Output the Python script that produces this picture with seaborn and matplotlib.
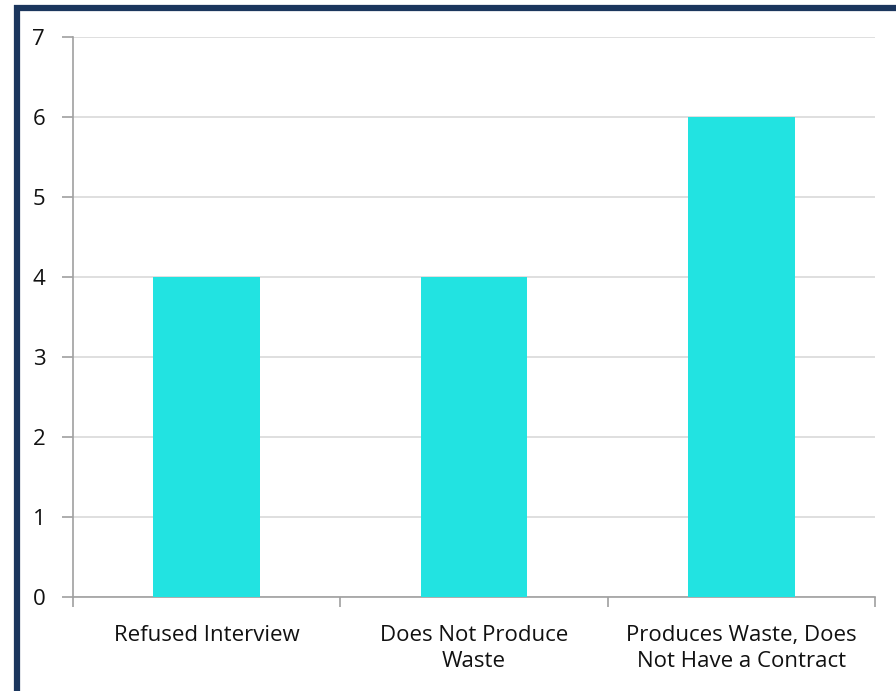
import matplotlib
matplotlib.use("Agg")
import matplotlib.pyplot as plt
import seaborn as sns
import pandas as pd
from matplotlib.lines import Line2D

# data
categories = ["Refused Interview", "Does Not Produce\nWaste", "Produces Waste, Does\nNot Have a Contract"]
counts = [4, 4, 6]

sns.set_style("white")
plt.rcParams['font.family'] = ['Open Sans', 'DejaVu Sans']

df = pd.DataFrame({"cat": categories, "n": counts})

W, H = 896, 691
fig = plt.figure(figsize=(W / 100, H / 100), dpi=100)
ax = fig.add_axes([73 / W, 1 - 597 / H, (875 - 73) / W, (597 - 37) / H])

sns.barplot(data=df, x="cat", y="n", color="#22E3E1", width=0.4, saturation=1,
            linewidth=0, ax=ax, zorder=3)

ax.set_ylim(0, 7)
ax.set_xlim(-0.5, 2.5)
ax.set_yticks(range(0, 8))
ax.set_xlabel("")
ax.set_ylabel("")
ax.yaxis.grid(True, color="#D9D9D9", linewidth=1.2, zorder=0)
ax.set_axisbelow(True)

for s in ["top", "right"]:
    ax.spines[s].set_visible(False)
for s in ["left", "bottom"]:
    ax.spines[s].set_color("#A0A0A0")
    ax.spines[s].set_linewidth(1.2)

fs = 16
ax.set_xticks([-0.5, 0.5, 1.5, 2.5], minor=False)
ax.set_xticklabels([])
ax.set_xticks([0, 1, 2], minor=True)
ax.set_xticklabels(categories, minor=True, fontsize=fs, linespacing=1.3)
ax.tick_params(axis="x", which="major", length=7, width=1.2, color="#A0A0A0", direction="out", bottom=True)
ax.tick_params(axis="x", which="minor", length=0, pad=20, labelsize=fs, labelcolor="#111111")
ax.tick_params(axis="y", length=8, width=1.2, color="#A0A0A0", direction="out", left=True,
               labelsize=fs, pad=12, labelcolor="#111111")

# dark frame on left and top edges
navy = "#1B365D"
fig.add_artist(Line2D([17 / W, 17 / W], [0, 1 - 5 / H], color=navy, linewidth=4.5,
                      solid_capstyle="butt", transform=fig.transFigure))
fig.add_artist(Line2D([14 / W, 1], [1 - 7.5 / H, 1 - 7.5 / H], color=navy, linewidth=4.5,
                      solid_capstyle="butt", transform=fig.transFigure))

fig.savefig("out.png", dpi=100)
